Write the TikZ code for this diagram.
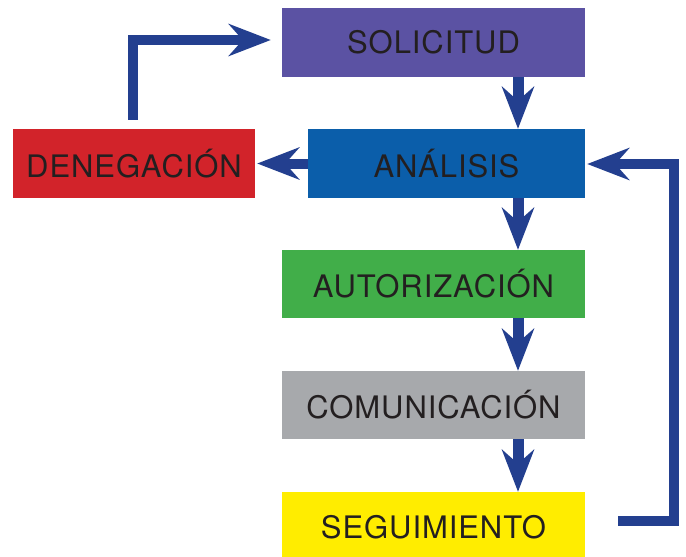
\documentclass[tikz,border=0pt]{standalone}
\usepackage{fontspec}
\setmainfont{TeX Gyre Heros}[LetterSpace=3]
\usetikzlibrary{arrows.meta}
\definecolor{cSol}{RGB}{91,82,163}
\definecolor{cAna}{RGB}{11,94,170}
\definecolor{cDen}{RGB}{210,35,42}
\definecolor{cAut}{RGB}{65,174,73}
\definecolor{cCom}{RGB}{167,169,172}
\definecolor{cSeg}{RGB}{255,237,0}
\definecolor{cTxt}{RGB}{35,31,32}
\definecolor{cArr}{RGB}{35,63,143}
\tikzset{
  box/.style={inner sep=0pt, text=cTxt, font=\fontsize{31}{36}\selectfont},
  arr/.style={draw=cArr, line width=11pt, line join=miter,
    -{Stealth[length=42pt, width=32pt, inset=14pt, fill=cArr]}},
  elbow/.style={arr, line width=10pt},
}
\begin{document}
\begin{tikzpicture}[x=1pt,y=-1pt]
\clip (0,0) rectangle (686,557);
\fill[white] (0,0) rectangle (686,557);
\node[box, fill=cSol, minimum width=303pt, minimum height=69pt] (sol) at (433.5,42.5) {SOLICITUD};
\node[box, fill=cAna, minimum width=277pt, minimum height=69pt] (ana) at (446.5,163.5) {ANÁLISIS};
\node[box, fill=cDen, minimum width=242pt, minimum height=69pt] (den) at (134,163.5) {DENEGACIÓN};
\node[box, fill=cAut, minimum width=303pt, minimum height=68pt] (aut) at (433.5,284) {AUTORIZACIÓN};
\node[box, fill=cCom, minimum width=303pt, minimum height=68pt] (com) at (433.5,405) {COMUNICACIÓN};
\node[box, fill=cSeg, minimum width=303pt, minimum height=70pt] (seg) at (433.5,527) {SEGUIMIENTO};
\coordinate (cx) at (518,0);
\coordinate (cl) at (133,0);
\coordinate (r0) at (618,521);
\coordinate (r1) at (674,521);
\coordinate (r2) at (674,164);
\draw[arr] (sol.south -| cx) -- (ana.north -| cx);
\draw[arr] (ana.south -| cx) -- (aut.north -| cx);
\draw[arr] (aut.south -| cx) -- (com.north -| cx);
\draw[arr] (com.south -| cx) -- (seg.north -| cx);
\draw[arr, line width=10pt, shorten >=2pt] (ana.west) -- (den.east);
\draw[elbow, shorten <=9pt, shorten >=11pt] (den.north -| cl) |- ([yshift=2.5pt]sol.west);
\draw[elbow, shorten >=2pt] (r0) -- (r1) -- (r2) -- (ana.east |- r2);
\end{tikzpicture}
\end{document}
